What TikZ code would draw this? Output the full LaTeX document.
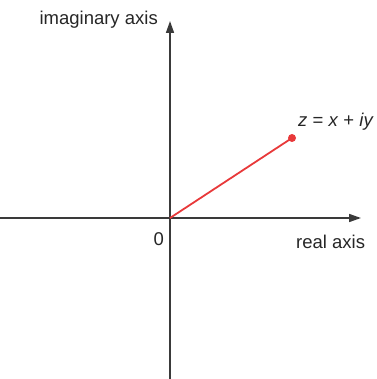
\documentclass[tikz,border=0pt]{standalone}
\usepackage{fontspec}
\setmainfont{Liberation Sans}
\usetikzlibrary{arrows.meta}
\definecolor{axisgray}{HTML}{3A3A3A}
\definecolor{zred}{HTML}{E8393A}
\tikzset{
  axisline/.style={draw=axisgray, line width=1.6pt, -{Triangle[length=12pt,width=8pt]}},
  lbl/.style={inner sep=0pt, font=\fontsize{18.5}{20}\selectfont, text=black!85},
}
\begin{document}
\begin{tikzpicture}[x=1pt,y=-1pt]
\useasboundingbox (0,0) rectangle (376,379);
\coordinate (O) at (170,218);
\coordinate (xl) at (0,218);
\coordinate (xr) at (361,218);
\coordinate (yb) at (170,379);
\coordinate (yt) at (170,21);
\draw[axisline] (xl) -- (xr);
\draw[axisline] (yb) -- (yt);
\coordinate (Z) at (292,138);
\draw[zred, line width=1.8pt] (O) -- (Z);
\fill[zred] (Z) circle (4);
\node[lbl, anchor=base east] (im) at (158,25) {imaginary axis};
\node[lbl, anchor=base west] (re) at (296,248) {real axis};
\node[lbl, anchor=base east] (zero) at (164,245) {0};
\node[lbl, anchor=base west] (zl) at (298,127) {\itshape z\/ \upshape= \itshape x\/ \upshape+ \itshape iy};
\end{tikzpicture}
\end{document}
